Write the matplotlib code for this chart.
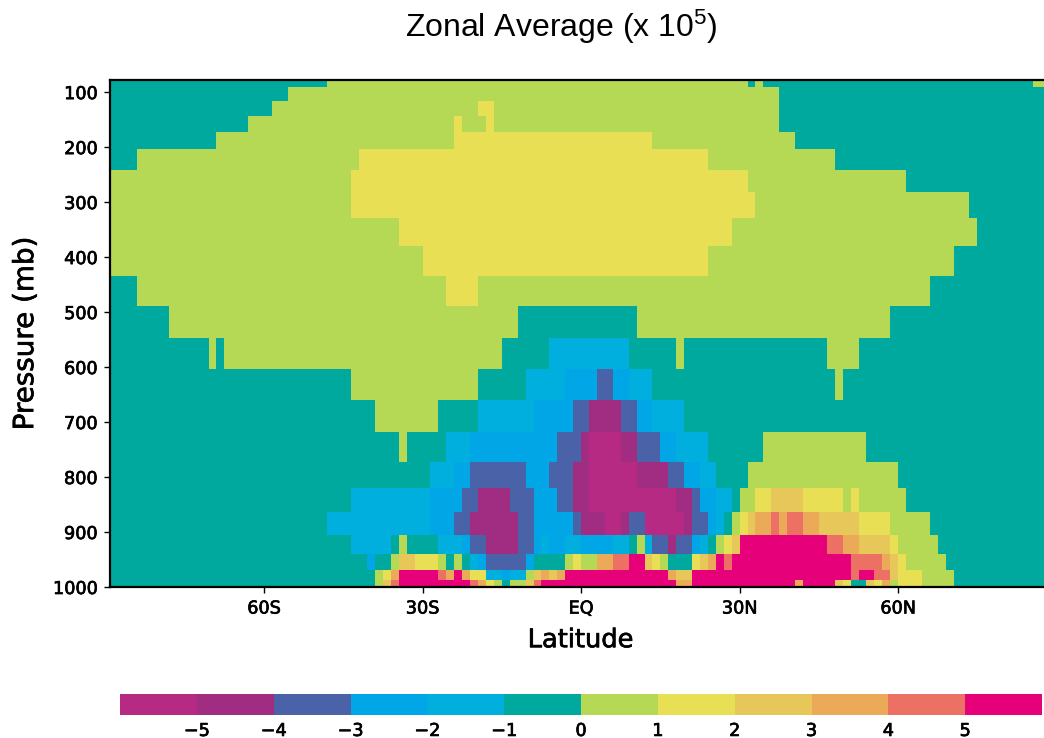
import numpy as np
import matplotlib
matplotlib.use('Agg')
import matplotlib.pyplot as plt
import matplotlib.patheffects as pe
from matplotlib.colors import BoundaryNorm, ListedColormap

# layer edges in mb, top of the plot downwards
pressure_edges = [80, 91, 116, 144, 173, 204, 242, 282, 329, 380, 435, 489, 547, 604,
                  660, 718, 773, 820, 864, 905, 940, 969, 987, 998, 1000]

# one list per layer: (value x 1e5, column where that run ends), 119 columns at 1.5 deg
layer_runs = [
    [(-.5, 28), (.5, 81), (-.5, 82), (.5, 83), (-.5, 117), (.5, 119)],
    [(-.5, 23), (.5, 85), (-.5, 119)],
    [(-.5, 21), (.5, 47), (1.5, 49), (.5, 85), (-.5, 119)],
    [(-.5, 18), (.5, 44), (1.5, 45), (.5, 48), (1.5, 49), (.5, 85), (-.5, 119)],
    [(-.5, 14), (.5, 44), (1.5, 69), (.5, 87), (-.5, 119)],
    [(-.5, 4), (.5, 32), (1.5, 76), (.5, 92), (-.5, 119)],
    [(.5, 31), (1.5, 81), (.5, 101), (-.5, 119)],
    [(.5, 31), (1.5, 82), (.5, 109), (-.5, 119)],
    [(.5, 37), (1.5, 79), (.5, 110), (-.5, 119)],
    [(.5, 40), (1.5, 76), (.5, 107), (-.5, 119)],
    [(-.5, 4), (.5, 43), (1.5, 47), (.5, 104), (-.5, 119)],
    [(-.5, 8), (.5, 52), (-.5, 67), (.5, 99), (-.5, 119)],
    [(-.5, 13), (.5, 14), (-.5, 15), (.5, 50), (-.5, 56), (-1.5, 66), (-.5, 72), (.5, 73),
     (-.5, 91), (.5, 95), (-.5, 119)],
    [(-.5, 31), (.5, 47), (-.5, 53), (-1.5, 58), (-2.5, 62), (-3.5, 64), (-2.5, 66), (-1.5, 69),
     (-.5, 92), (.5, 93), (-.5, 119)],
    [(-.5, 34), (.5, 42), (-.5, 47), (-1.5, 54), (-2.5, 59), (-3.5, 61), (-4.5, 65), (-3.5, 67),
     (-2.5, 69), (-1.5, 73), (-.5, 119)],
    [(-.5, 37), (.5, 38), (-.5, 43), (-1.5, 46), (-2.5, 57), (-3.5, 60), (-4.5, 61), (-5.5, 65),
     (-4.5, 67), (-3.5, 70), (-2.5, 72), (-1.5, 76), (-.5, 83), (.5, 96), (-.5, 119)],
    [(-.5, 41), (-1.5, 44), (-2.5, 46), (-3.5, 53), (-2.5, 56), (-3.5, 59), (-4.5, 61), (-5.5, 67),
     (-4.5, 71), (-3.5, 73), (-2.5, 75), (-1.5, 77), (-.5, 81), (.5, 100), (-.5, 119)],
    [(-.5, 31), (-1.5, 41), (-2.5, 45), (-3.5, 47), (-4.5, 51), (-3.5, 54), (-2.5, 57), (-3.5, 59),
     (-4.5, 61), (-5.5, 72), (-4.5, 74), (-3.5, 75), (-2.5, 77), (-1.5, 79), (-.5, 80), (.5, 82),
     (1.5, 84), (2.5, 88), (1.5, 93), (.5, 94), (1.5, 95), (.5, 101), (-.5, 119)],
    [(-.5, 28), (-1.5, 41), (-2.5, 44), (-3.5, 46), (-4.5, 52), (-3.5, 54), (-2.5, 59), (-3.5, 60),
     (-4.5, 63), (-5.5, 65), (-4.5, 66), (-3.5, 68), (-5.5, 73), (-4.5, 74), (-3.5, 76), (-2.5, 77),
     (-1.5, 78), (-.5, 79), (.5, 80), (1.5, 81), (2.5, 82), (3.5, 84), (4.5, 85), (3.5, 86),
     (4.5, 88), (3.5, 90), (2.5, 95), (1.5, 99), (.5, 104), (-.5, 119)],
    [(-.5, 31), (-1.5, 36), (-.5, 37), (.5, 38), (-.5, 42), (-1.5, 45), (-2.5, 46), (-3.5, 48),
     (-4.5, 52), (-3.5, 54), (-2.5, 55), (-1.5, 56), (-2.5, 58), (-1.5, 60), (-2.5, 64), (-1.5, 66),
     (-.5, 67), (.5, 68), (-1.5, 69), (-3.5, 71), (-4.5, 72), (-3.5, 74), (-2.5, 75), (-1.5, 76),
     (-.5, 77), (.5, 78), (1.5, 79), (2.5, 80), (5.5, 91), (4.5, 93), (3.5, 95), (2.5, 99),
     (1.5, 100), (.5, 105), (-.5, 119)],
    [(-.5, 33), (-2.5, 34), (-.5, 36), (.5, 37), (2.5, 39), (1.5, 42), (.5, 43), (-.5, 44),
     (.5, 45), (-.5, 46), (-1.5, 47), (-2.5, 48), (-3.5, 53), (-2.5, 54), (-.5, 58), (.5, 59),
     (1.5, 60), (.5, 62), (3.5, 64), (4.5, 66), (5.5, 68), (2.5, 69), (1.5, 70), (.5, 71),
     (-.5, 74), (1.5, 75), (2.5, 76), (3.5, 77), (5.5, 78), (4.5, 79), (5.5, 94), (4.5, 98),
     (3.5, 99), (2.5, 100), (1.5, 101), (.5, 106), (-.5, 119)],
    [(-.5, 34), (.5, 35), (1.5, 36), (3.5, 37), (5.5, 42), (4.5, 43), (3.5, 44), (5.5, 45),
     (3.5, 46), (1.5, 48), (-1.5, 50), (-2.5, 51), (-1.5, 53), (.5, 54), (2.5, 55), (3.5, 56),
     (2.5, 57), (3.5, 58), (5.5, 71), (3.5, 72), (2.5, 74), (5.5, 94), (4.5, 95), (5.5, 97),
     (4.5, 99), (2.5, 100), (1.5, 103), (.5, 107), (-.5, 119)],
    [(-.5, 34), (.5, 35), (2.5, 36), (4.5, 37), (5.5, 46), (4.5, 47), (3.5, 48), (1.5, 49),
     (.5, 50), (-.5, 51), (.5, 53), (2.5, 54), (4.5, 55), (5.5, 72), (3.5, 74), (5.5, 87),
     (3.5, 88), (5.5, 92), (2.5, 93), (1.5, 94), (-.5, 96), (2.5, 97), (1.5, 98), (3.5, 99),
     (.5, 100), (1.5, 103), (.5, 107), (-.5, 119)],
    [(-.5, 34), (.5, 35), (2.5, 36), (4.5, 37), (5.5, 51), (3.5, 52), (5.5, 67), (3.5, 68),
     (1.5, 69), (3.5, 70), (1.5, 72), (2.5, 73), (-.5, 74), (.5, 76), (1.5, 77), (3.5, 78),
     (5.5, 80), (3.5, 81), (5.5, 82), (-1.5, 83), (-4.5, 84), (-1.5, 85), (-4.5, 98), (-1.5, 99),
     (-4.5, 100), (-1.5, 103), (.5, 105), (-.5, 107), (.5, 108), (-.5, 119)],
]

level_bounds = [-6, -5, -4, -3, -2, -1, 0, 1, 2, 3, 4, 5, 6]
level_colors = ['#B72A84', '#A02D81', '#4A63A8', '#00A6E5', '#00AFDD', '#00A99D',
                '#B5D955', '#E9DF55', '#E8C75A', '#EAAA58', '#EC7063', '#E6007A']

pressure_ticks = [100, 200, 300, 400, 500, 600, 700, 800, 900, 1000]
lat_ticks = [-60, -30, 0, 30, 60]
lat_labels = ['60S', '30S', 'EQ', '30N', '60N']
cbar_ticks = [-5, -4, -3, -2, -1, 0, 1, 2, 3, 4, 5]

W, H = 1044, 738
THICK = [pe.withStroke(linewidth=0.5, foreground='black')]

values = np.array([np.repeat([r[0] for r in runs], np.diff([0] + [r[1] for r in runs]))
                   for runs in layer_runs])
lat_edges = np.arange(-90, 88.6, 1.5)

cmap = ListedColormap(level_colors)
norm = BoundaryNorm(level_bounds, cmap.N)

fig = plt.figure(figsize=(W / 100, H / 100), dpi=100)
ax = fig.add_axes([110 / W, 1 - 587 / H, 934 / W, 507 / H])
mesh = ax.pcolormesh(lat_edges, pressure_edges, values, cmap=cmap, norm=norm, antialiased=False)
ax.set_xlim(-89.15, 87.6)
ax.set_ylim(1000, 78)

for side in ['left', 'top', 'bottom']:
    ax.spines[side].set_linewidth(1.6)
ax.spines['right'].set_visible(False)

ax.set_yticks(pressure_ticks)
ax.set_xticks(lat_ticks, lat_labels)
ax.tick_params(length=4.5, width=1, labelsize=12.7, pad=4.5)
for lab in ax.get_xticklabels() + ax.get_yticklabels():
    lab.set_path_effects(THICK)

ax.set_xlabel('Latitude', fontsize=18.5, labelpad=7, path_effects=THICK, x=0.504)
ax.set_ylabel('Pressure (mb)', fontsize=20, labelpad=10, path_effects=THICK)

plt.rcParams['mathtext.default'] = 'regular'
fig.text(561 / W, 1 - 27 / H, 'Zonal Average (x 10$^{5}$)', fontsize=23, ha='center', va='center',
         fontfamily='Liberation Sans')

cax = fig.add_axes([120 / W, 1 - 715 / H, 922 / W, 21 / H])
cbar = fig.colorbar(mesh, cax=cax, orientation='horizontal', ticks=cbar_ticks, spacing='proportional')
cbar.outline.set_visible(False)
cbar.ax.minorticks_off()
cbar.ax.tick_params(which='both', length=0, labelsize=12.7, pad=5)
for lab in cbar.ax.get_xticklabels():
    lab.set_path_effects(THICK)

fig.savefig('out.png', dpi=100)
